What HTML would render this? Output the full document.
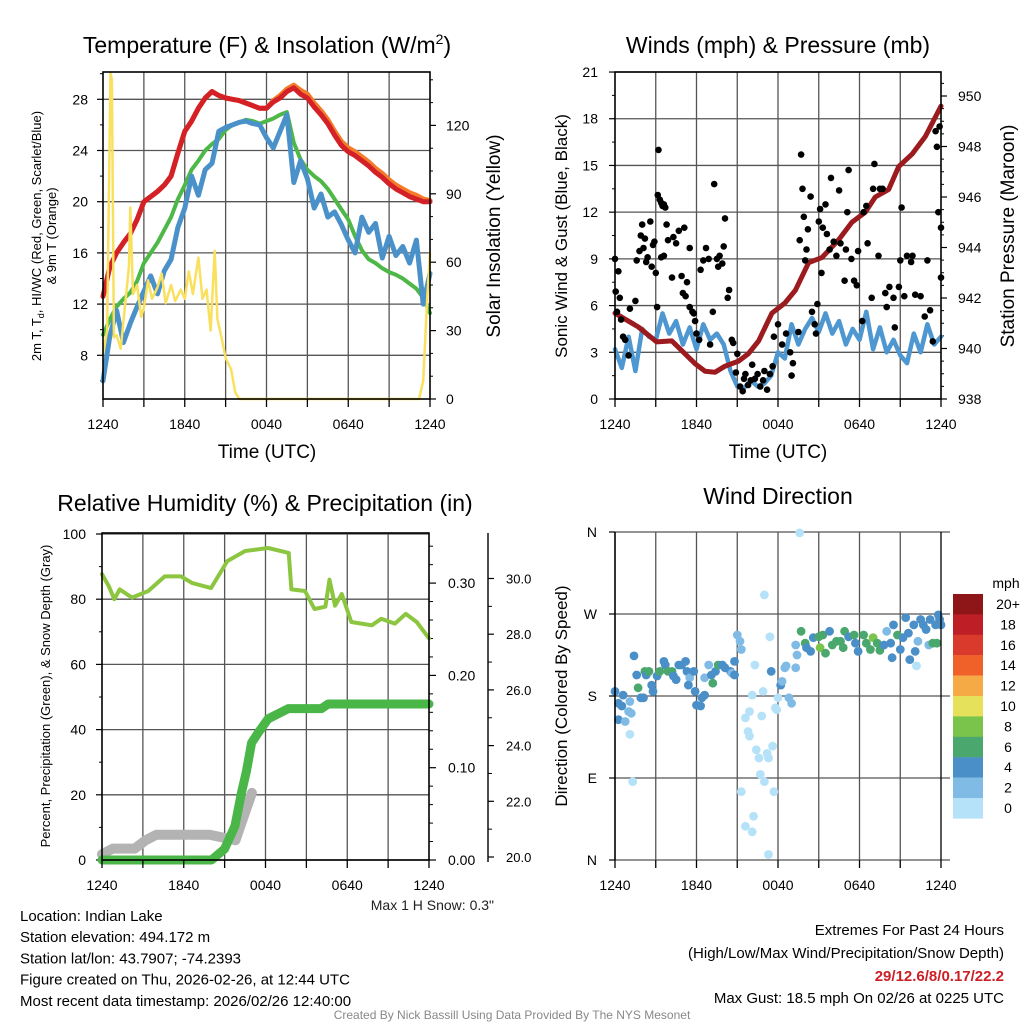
<!DOCTYPE html>
<html><head><meta charset="utf-8"><title>Mesonet Meteogram</title>
<style>
html,body{margin:0;padding:0;background:#fff;}
svg{display:block;font-family:"Liberation Sans",Arial,sans-serif;}
</style></head>
<body>
<svg id="chart" width="1024" height="1024" viewBox="0 0 1024 1024" xmlns="http://www.w3.org/2000/svg">
<rect width="1024" height="1024" fill="#fff"/>
<g id="layer"></g>
</svg>
<script>
// ---------- DATA ----------
const hours = [0,0.5,1,1.5,2,2.5,3,3.5,4,4.5,5,5.5,6,6.5,7,7.5,8,8.5,9,9.5,10,10.5,11,11.5,12,12.5,13,13.5,14,14.5,15,15.5,16,16.5,17,17.5,18,18.5,19,19.5,20,20.5,21,21.5,22,22.5,23,23.5,24];
const timeTickLabels = ["1240","1840","0040","0640","1240"];
const tempRed = [12.6,14.9,16,16.8,17.5,18.6,20,20.4,20.8,21.3,22,23.8,25.5,26.3,27.3,28.1,28.6,28.3,28.1,28.0,27.9,27.7,27.5,27.3,27.3,27.8,28.1,28.6,28.9,28.4,28.1,27.4,26.8,26.1,25.2,24.4,23.9,23.6,23.2,22.8,22.3,21.9,21.4,21.0,20.7,20.4,20.2,20.0,20.0];
const temp9mOrange = [12.6,14.9,16,16.8,17.5,18.6,20,20.4,20.8,21.3,22,23.8,25.5,26.3,27.3,28.1,28.6,28.3,28.1,28.0,27.9,27.7,27.5,27.3,27.3,27.9,28.3,28.8,29.1,28.7,28.4,27.7,27.1,26.4,25.5,24.7,24.2,23.9,23.5,23.1,22.6,22.2,21.7,21.3,21.0,20.7,20.5,20.2,20.1];
const dewGreen = [9.6,10.8,11.8,12.4,12.9,13.8,15.2,16.0,16.8,17.8,18.8,20.2,21.3,22.5,23.2,24.0,24.5,24.9,25.6,26.0,26.2,26.4,26.3,26.1,26.3,26.5,26.8,27.0,24.6,23.3,22.5,22.0,21.6,21.0,20.2,19.4,18.6,17.3,16.2,15.5,15.2,14.8,14.5,14.3,14.0,13.6,13.2,12.5,11.3];
const windChillBlue = [6.0,9.5,11.5,9.0,10.5,11.8,13.0,14.2,12.8,14.6,15.5,18.0,19.5,22.0,20.5,22.5,23.0,25.5,25.8,26.0,26.2,26.3,26.1,26.0,25.0,24.2,25.5,26.8,21.5,23.2,21.8,19.5,20.6,18.8,19.2,18.2,17.0,16.0,18.8,17.6,18.3,15.6,17.3,15.8,16.5,15.2,17.0,12.0,14.4];
const solarHours = [0,0.3,0.55,0.65,0.8,1.0,1.3,1.6,1.9,2.0,2.2,2.5,2.8,3.0,3.3,3.6,4.0,4.3,4.6,5.0,5.3,5.7,6.0,6.3,6.6,7.0,7.3,7.6,7.9,8.2,8.4,8.7,9.0,9.4,9.7,10,23.2,23.5,23.8,24];
const solarValues = [20,30,143,140,27,28,22,40,58,84,46,50,36,40,52,44,49,55,42,50,43,48,44,56,46,62,44,48,30,65,35,27,18,13,3,0,0,8,45,64];
const leftTempTicks = [8,12,16,20,24,28];
const solarTicks = [0,30,60,90,120];

const windSpeed = [3.2,2.0,4.0,1.8,4.5,4.0,3.8,5.5,4.2,5.0,3.5,4.6,3.2,4.8,3.8,4.2,3.5,1.8,0.8,0.7,1.2,0.8,1.0,1.5,3.0,2.6,4.8,3.5,4.5,5.2,4.3,5.5,4.2,5.0,3.5,4.5,3.8,5.6,3.2,4.6,3.0,3.8,2.8,2.3,4.2,3.0,4.8,3.5,4.0];
const pressHours = [0,1.72,3.07,4.18,5.9,6.63,7.37,8.1,9.1,9.83,10.57,11.55,12.5,13.27,14.25,15.23,16.46,17.44,18.43,19.16,20.15,20.88,21.87,22.85,24];
const pressValues = [941.4,940.85,940.26,940.3,939.4,939.1,939.06,939.3,939.5,939.8,940.3,941.4,941.8,942.3,943.4,943.6,944.3,945.0,945.4,946.0,946.3,947.2,947.7,948.4,949.6];
const gustHours = [0.0,0.05,0.15,0.25,0.35,0.45,0.6,0.75,1.0,1.1,1.5,1.6,1.8,1.9,2.0,2.1,2.2,2.3,2.4,2.6,2.7,2.8,2.9,3.0,3.1,3.15,3.2,3.3,3.4,3.5,3.6,3.7,3.4,3.6,3.8,3.9,4.2,4.3,4.5,4.7,4.9,5.1,5.3,5.5,5.0,5.2,5.5,5.7,5.8,5.9,6.0,6.2,6.3,6.5,6.7,6.9,7.0,7.2,7.3,7.5,7.6,7.7,7.9,8.0,8.1,8.3,8.4,8.6,8.7,8.9,9.0,9.2,9.4,9.5,9.6,9.8,10.0,10.1,10.3,10.5,10.7,10.9,11.0,11.2,11.4,11.6,11.7,12.0,12.3,12.6,12.9,13.0,13.1,13.5,13.6,13.7,13.8,13.9,14.0,14.1,14.2,14.4,14.5,14.7,14.8,14.9,15.0,15.1,15.2,15.3,15.5,15.6,15.8,15.9,16.1,16.3,16.6,16.5,16.9,17.0,17.1,17.2,17.4,17.6,17.8,17.9,18.2,18.3,18.5,18.6,18.9,19.0,19.1,19.4,19.5,19.7,19.9,20.0,20.2,20.5,20.6,20.9,21.0,21.1,21.3,21.5,21.8,21.9,22.1,22.5,22.8,23.0,23.2,23.4,23.6,23.7,23.9,24.0,23.8,24.0];
const gustValues = [9,6.9,5.6,8.2,6.5,5.1,4.0,3.8,2.8,5.8,6.3,8.9,9.5,10.5,11.2,9.7,10.3,8.8,9.1,11.4,8.5,9.9,10.1,8.1,5.9,13.1,16.0,12.8,12.6,12.4,12.5,12.3,9.1,9.2,11.2,10.2,7.8,10.4,10.0,10.8,7.9,11.0,7.5,9.7,6.8,6.6,5.9,5.6,5.5,5.0,4.2,3.8,8.3,8.9,9.7,9.0,3.5,5.6,13.8,9.0,8.5,9.2,8.7,9.8,11.6,6.5,7.0,3.8,3.6,1.7,2.9,0.8,0.5,1.3,1.6,0.9,1.2,2.2,1.3,1.6,0.8,1.2,1.8,0.6,1.6,2.1,4.0,4.8,3.5,4.2,3.0,1.5,2.3,4.3,10.2,15.7,13.5,11.7,8.9,9.6,10.9,13.0,5.6,4.8,4.2,6.1,11.4,12.2,8.1,11.0,12.5,10.6,9.6,14.2,10.1,9.2,10.0,13.4,7.6,9.6,12.0,14.7,9.0,7.6,7.3,9.5,5.0,12.0,12.4,10.0,6.5,13.5,15.1,9.2,13.5,13.5,6.8,5.9,7.2,6.5,4.6,7.2,8.9,12.3,6.6,9.2,8.8,9.2,6.7,6.6,5.3,8.9,5.7,3.7,17.2,16.2,17.5,11.0,12.0,7.8];
const windTicks = [0,3,6,9,12,15,18,21];
const pressTicks = [938,940,942,944,946,948,950];

const rhHours = [0,0.5,0.9,1.3,2.2,3.4,4.6,5.8,6.6,8.0,9.2,10.5,12.2,13.7,13.9,14.9,15.6,16.4,16.7,17.1,17.6,18.3,19.8,20.5,21.5,22.3,23.1,24];
const rhValues = [87.7,84,80,83,80.5,82.5,87,87,85,83.4,91.7,94.8,95.7,94.2,83,82.5,77,77.7,86,78,81.6,73,72,74,72.5,75.5,73,68];
const precipHours = [0,8.04,9.0,9.76,10.24,10.6,10.98,11.47,12.2,13.67,16.1,16.6,24];
const precipValues = [0,0,0.012,0.037,0.073,0.096,0.127,0.138,0.153,0.164,0.164,0.169,0.169];
const snowHours = [0,0.8,2.4,3.2,4.0,7.9,9.8,10.5,11.0];
const snowValues = [20.1,20.3,20.3,20.6,20.8,20.8,20.6,21.6,22.3];
const rhTicks = [0,20,40,60,80,100];
const precipTicks = [0.00,0.10,0.20,0.30];
const snowTicks = [20,22,24,26,28,30];

const dirHours = [0.0,0.25,0.5,0.6,0.25,0.75,1.1,1.0,1.2,1.1,1.3,1.4,1.6,1.7,1.9,2.1,2.2,2.3,2.5,2.7,2.8,3.1,3.3,3.6,3.7,3.9,4.2,4.3,4.5,4.7,4.9,5.2,5.3,5.5,5.8,5.4,5.9,6.0,6.3,6.4,6.6,6.6,6.9,7.1,7.2,7.4,7.6,7.9,8.1,8.5,8.8,9.0,9.2,9.3,8.6,8.8,9.6,9.8,9.9,9.9,10.1,10.3,10.4,10.6,10.7,10.8,10.9,11.0,11.2,11.3,11.4,11.5,11.6,11.7,11.8,11.9,12.0,12.2,12.3,12.5,12.6,12.8,13.0,13.3,13.4,13.3,13.6,9.3,9.6,10.1,10.2,11.3,11.0,13.7,14.0,14.1,14.4,14.6,15.0,15.1,15.3,15.5,15.8,16.0,16.3,16.6,16.8,16.9,17.2,17.6,17.7,17.9,18.3,18.5,18.8,19.0,19.3,19.5,19.8,20.0,20.3,20.4,20.5,20.8,21.0,21.2,21.4,21.6,21.7,22.0,22.1,22.2,22.3,22.5,22.7,22.9,23.1,23.2,23.4,23.7,23.8,24.0,23.6,23.9];
const dirValues = [185,172,169,181,154,152,174,163,161,138,86,224,203,189,178,178,207,203,207,192,185,202,207,218,214,207,207,202,198,214,214,218,207,200,207,192,185,170,169,178,181,200,214,203,194,207,214,214,211,207,218,247,240,231,205,203,156,141,136,163,181,214,121,112,94,158,185,291,117,112,245,207,125,75,167,165,178,192,196,211,213,178,172,211,225,236,359,75,37,31,48,6,86,251,238,233,229,244,245,233,247,227,251,236,240,240,233,251,245,247,238,229,247,238,231,244,238,230,236,251,238,222,258,247,231,244,266,249,220,258,229,213,240,264,258,253,236,264,238,238,269,258,258,264];
const dirSpeeds = [4,4,4,4,4,3,3,3,2,1,1,4,4,6,4,4,6,4,6,4,4,4,6,4,4,6,6,4,4,4,4,4,4,3,4,4,4,4,4,4,4,3,3,4,6,4,6,4,4,4,4,2,2,2,3,4,1,1,1,1,1,1,1,1,1,1,1,1,1,1,1,4,1,1,1,1,1,4,3,3,3,2,2,3,2,2,1,1,1,1,1,1,1,6,6,4,4,4,6,8,6,6,4,6,6,6,6,6,4,6,4,4,6,6,6,8,6,6,4,2,4,4,4,6,4,4,4,4,4,4,4,1,2,4,4,4,2,4,6,6,4,4,4,4];
const dirTicks = [0,90,180,270,360];
const dirTickLabels = ["N","E","S","W","N"];
const speedBins = ["20+","18","16","14","12","10","8","6","4","2","0"];
const speedColors = ["#8e1518","#be1e25","#da3a2b","#ef6129","#f6aa45","#e6e15a","#7bc44c","#4aa76d","#4a8fc7","#7fbbe5","#b5e2f8"];

// ---------- HELPERS ----------
const NS = "http://www.w3.org/2000/svg";
const root = document.getElementById("layer");
function mk(tag, attrs, parent, text){
  const e = document.createElementNS(NS, tag);
  for (const k in attrs) e.setAttribute(k, attrs[k]);
  if (text !== undefined) e.textContent = text;
  (parent || root).appendChild(e);
  return e;
}
function grp(name){
  const g = mk("g", {});
  
  
  return g;
}
function txt(name, x, y, s, size, anchor, extra, parent){
  const a = Object.assign({x:x, y:y, "font-size":size, "text-anchor":anchor||"middle", fill:"#000"}, extra||{});
  const t = mk("text", a, parent, s);
  
  
  return t;
}
function pathFrom(xs, ys, X, Y){
  let d = "";
  for (let i=0;i<xs.length;i++){ d += (i?"L":"M") + X(xs[i]).toFixed(1) + "," + Y(ys[i]).toFixed(1); }
  return d;
}
function line(name, d, color, w, parent){
  const p = mk("path", {d:d, fill:"none", stroke:color, "stroke-width":w, "stroke-linejoin":"round", "stroke-linecap":"round"}, parent);
  
  
  return p;
}
function frame(name, x0,y0,x1,y1, vgrid, hys, parent){
  const g = grp(name);
  vgrid.forEach(x=>{ mk("line",{x1:x,y1:y0,x2:x,y2:y1,stroke:"#555","stroke-width":1.3},g); });
  hys.forEach(y=>{ mk("line",{x1:x0,y1:y,x2:x1,y2:y,stroke:"#555","stroke-width":1.3},g); });
  return g;
}
function border(x0,y0,x1,y1){
  const r = mk("rect",{x:x0,y:y0,width:x1-x0,height:y1-y0,fill:"none",stroke:"#000","stroke-width":1.6});
  
  
}
function timeAxis(X, yb, name){
  const g = grp(name);
  for (let h=0; h<=24; h+=3) mk("line",{x1:X(h),y1:yb,x2:X(h),y2:yb+8,stroke:"#000","stroke-width":1.3},g);
  timeTickLabels.forEach((s,i)=>{ txt("x-tick-label", X(i*6), yb+30, s, 14, "middle", {}, g); });
}

// ---------- PANEL 1 ----------
(function(){
  const x0=103,x1=430,y0=72,y1=399;
  const X = t => x0 + t*(x1-x0)/24;
  const Y = v => 99.3 + (28-v)*12.8;
  const YR = v => y1 - v*2.28;
  const vg=[]; for(let h=3;h<24;h+=3) vg.push(X(h));
  frame("temp-grid", x0,y0,x1,y1, vg, leftTempTicks.map(Y));
  const g = grp("temp-left-axis");
  leftTempTicks.forEach(v=>{ mk("line",{x1:x0-6,y1:Y(v),x2:x0,y2:Y(v),stroke:"#000","stroke-width":1.2},g); txt("y-tick-label",88,Y(v)+5,String(v),14,"end",{},g); });
  for(let v=6; v<=30; v+=2){ if(v%4) mk("line",{x1:x0-3,y1:Y(v),x2:x0,y2:Y(v),stroke:"#000","stroke-width":1},g); }
  const gr = grp("solar-right-axis");
  solarTicks.forEach(v=>{ mk("line",{x1:x1,y1:YR(v),x2:x1+6,y2:YR(v),stroke:"#000","stroke-width":1.2},gr); txt("y2-tick-label",446,YR(v)+5,String(v),14,"start",{},gr); });
  for(let v=10; v<=140; v+=10){ if(v%30) mk("line",{x1:x1,y1:YR(v),x2:x1+3,y2:YR(v),stroke:"#000","stroke-width":1},gr); }
  const sg = grp("temp-series");
  line("orange-9m-temp-line", pathFrom(hours,temp9mOrange,X,Y), "#f47b2a", 5, sg);
  line("red-2m-temp-line", pathFrom(hours,tempRed,X,Y), "#d42027", 5, sg);
  line("green-dewpoint-line", pathFrom(hours,dewGreen,X,Y), "#4db848", 4, sg);
  line("blue-windchill-line", pathFrom(hours,windChillBlue,X,Y), "#4b91c9", 5, sg);
  line("yellow-solar-line", pathFrom(solarHours,solarValues,X,YR), "#f9e05e", 2.5, sg);
  border(x0,y0,x1,y1);
  timeAxis(X, y1, "temp-time-axis");
  const t = txt("temp-title",267,53,"",23);
  t.innerHTML = 'Temperature (F) &amp; Insolation (W/m<tspan font-size="14" dy="-9">2</tspan><tspan dy="9">)</tspan>';
  txt("temp-x-axis-title",267,458,"Time (UTC)",19);
  const l1 = txt("temp-y-axis-title",41,236,"",13,"middle",{transform:"rotate(-90 41 236)"});
  l1.innerHTML = '2m T, T<tspan font-size="9" dy="3">d</tspan><tspan dy="-3">, HI/WC (Red, Green, Scarlet/Blue)</tspan>';
  txt("temp-y-axis-title-2",56,236,"& 9m T (Orange)",13,"middle",{transform:"rotate(-90 56 236)"});
  txt("solar-y-axis-title",500,236,"Solar Insolation (Yellow)",19,"middle",{transform:"rotate(-90 500 236)"});
})();

// ---------- PANEL 2 ----------
(function(){
  const x0=615,x1=941,y0=72,y1=399;
  const X = t => x0 + t*(x1-x0)/24;
  const Y = v => y1 - v*15.57;
  const YP = p => y1 - (p-938)*25.25;
  const vg=[]; for(let h=3;h<24;h+=3) vg.push(X(h));
  frame("wind-grid", x0,y0,x1,y1, vg, windTicks.map(Y));
  const g = grp("wind-left-axis");
  windTicks.forEach(v=>{ mk("line",{x1:x0-6,y1:Y(v),x2:x0,y2:Y(v),stroke:"#000","stroke-width":1.2},g); txt("y-tick-label",598,Y(v)+5,String(v),14,"end",{},g); });
  for(let v=1.5; v<21; v+=3) mk("line",{x1:x0-3,y1:Y(v),x2:x0,y2:Y(v),stroke:"#000","stroke-width":1},g);
  const gr = grp("pressure-right-axis");
  pressTicks.forEach(v=>{ mk("line",{x1:x1,y1:YP(v),x2:x1+6,y2:YP(v),stroke:"#000","stroke-width":1.2},gr); txt("y2-tick-label",958,YP(v)+5,String(v),14,"start",{},gr); });
  for(let v=938.5; v<950.9; v+=0.5){ if(Math.abs(v%2)>0.01) mk("line",{x1:x1,y1:YP(v),x2:x1+3,y2:YP(v),stroke:"#000","stroke-width":1},gr); }
  const sg = grp("wind-series");
  line("sonic-wind-line", pathFrom(hours,windSpeed,X,Y), "#4f97d0", 4.5, sg);
  line("pressure-line", pathFrom(pressHours,pressValues,X,YP), "#9c1b1f", 5, sg);
  const gg = grp("gust-points");
  gustHours.forEach((t,i)=>{ const c = mk("circle",{cx:X(t).toFixed(1),cy:Y(gustValues[i]).toFixed(1),r:3.3,fill:"#000"},gg);   });
  border(x0,y0,x1,y1);
  timeAxis(X, y1, "wind-time-axis");
  txt("wind-title",778,53,"Winds (mph) & Pressure (mb)",23);
  txt("wind-x-axis-title",778,458,"Time (UTC)",19);
  txt("wind-y-axis-title",567,236,"Sonic Wind & Gust (Blue, Black)",17,"middle",{transform:"rotate(-90 567 236)"});
  txt("pressure-y-axis-title",1014,236,"Station Pressure (Maroon)",19,"middle",{transform:"rotate(-90 1014 236)"});
})();

// ---------- PANEL 3 ----------
(function(){
  const x0=102,x1=429,y0=533,y1=860;
  const X = t => x0 + t*(x1-x0)/24;
  const Y = v => y1 - v*3.26;
  const YP = p => y1 - p*923;
  const YS = s => 857 - (s-20)*27.85;
  const vg=[]; for(let h=3;h<24;h+=3) vg.push(X(h));
  frame("rh-grid", x0,y0,x1,y1, vg, rhTicks.map(Y));
  const g = grp("rh-left-axis");
  rhTicks.forEach(v=>{ mk("line",{x1:x0-6,y1:Y(v),x2:x0,y2:Y(v),stroke:"#000","stroke-width":1.2},g); txt("y-tick-label",86,Y(v)+5,String(v),14,"end",{},g); });
  for(let v=10; v<100; v+=20) mk("line",{x1:x0-3,y1:Y(v),x2:x0,y2:Y(v),stroke:"#000","stroke-width":1},g);
  const gp = grp("precip-right-axis");
  precipTicks.forEach(v=>{ mk("line",{x1:x1,y1:YP(v),x2:x1+7,y2:YP(v),stroke:"#000","stroke-width":1.2},gp); txt("precip-tick-label",448,YP(v)+5,v.toFixed(2),14,"start",{},gp); });
  for(let v=0.02; v<0.35; v+=0.02){ if(Math.abs(v*10-Math.round(v*10))>0.01) mk("line",{x1:x1,y1:YP(v),x2:x1+4,y2:YP(v),stroke:"#000","stroke-width":1},gp); }
  const gs = grp("snow-right-axis");
  mk("line",{x1:488,y1:533,x2:488,y2:862,stroke:"#000","stroke-width":1.4},gs);
  snowTicks.forEach(v=>{ mk("line",{x1:488,y1:YS(v),x2:494,y2:YS(v),stroke:"#000","stroke-width":1.2},gs); txt("snow-tick-label",506,YS(v)+5,v.toFixed(1),13,"start",{},gs); });
  for(let v=21; v<31; v+=2) mk("line",{x1:488,y1:YS(v),x2:492,y2:YS(v),stroke:"#000","stroke-width":1},gs);
  const sg = grp("rh-series");
  line("snow-depth-line", pathFrom(snowHours,snowValues,X,YS), "#b3b3b3", 10, sg);
  line("precip-line", pathFrom(precipHours,precipValues,X,YP), "#4ab648", 9, sg);
  line("rh-line", pathFrom(rhHours,rhValues,X,Y), "#8cc641", 4, sg);
  border(x0,y0,x1,y1);
  timeAxis(X, y1, "rh-time-axis");
  txt("rh-title",265,511,"Relative Humidity (%) & Precipitation (in)",23);
  txt("rh-y-axis-title",50,696,"Percent, Precipitation (Green), & Snow Depth (Gray)",13,"middle",{transform:"rotate(-90 50 696)"});
  txt("max-snow-note",494,910,"Max 1 H Snow: 0.3\"",14,"end",{fill:"#222"});
})();

// ---------- PANEL 4 ----------
(function(){
  const x0=615,x1=941,y0=532,y1=860;
  const X = t => x0 + t*(x1-x0)/24;
  const Y = d => y1 - d*(y1-y0)/360;
  const vg=[]; for(let h=3;h<24;h+=3) vg.push(X(h));
  const g0 = frame("dir-grid", x0,y0,x1,y1, vg, []);
  dirTicks.forEach(d=>{ mk("line",{x1:x0,y1:Y(d),x2:950,y2:Y(d),stroke:"#555","stroke-width":1.3},g0); });
  const g = grp("dir-left-axis");
  dirTicks.forEach((d,i)=>{ mk("line",{x1:x0-6,y1:Y(d),x2:x0,y2:Y(d),stroke:"#000","stroke-width":1.2},g); txt("dir-tick-label",597,Y(d)+5,dirTickLabels[i],14,"end",{},g); });
  function col(s){ if(s<2) return speedColors[10]; if(s<4) return speedColors[9]; if(s<6) return speedColors[8]; if(s<8) return speedColors[7]; if(s<10) return speedColors[6]; if(s<12) return speedColors[5]; if(s<14) return speedColors[4]; if(s<16) return speedColors[3]; if(s<18) return speedColors[2]; if(s<20) return speedColors[1]; return speedColors[0]; }
  const gp = grp("direction-points");
  dirHours.forEach((t,i)=>{ const c = mk("circle",{cx:X(t).toFixed(1),cy:Y(dirValues[i]).toFixed(1),r:4.4,fill:col(dirSpeeds[i])},gp);   });
  mk("line",{x1:x0,y1:y0,x2:x0,y2:y1,stroke:"#000","stroke-width":1.6});
  mk("line",{x1:x1,y1:y0,x2:x1,y2:y1,stroke:"#000","stroke-width":1.3});
  timeAxis(X, y1, "dir-time-axis");
  txt("dir-title",778,504,"Wind Direction",23);
  txt("dir-y-axis-title",567,696,"Direction (Colored By Speed)",17,"middle",{transform:"rotate(-90 567 696)"});
  const lg = grp("speed-legend");
  txt("legend-title",1006,588,"mph",14,"middle",{},lg);
  speedBins.forEach((s,i)=>{
    const r = mk("rect",{x:953,y:594+i*20.4,width:30,height:20.6,fill:speedColors[i]},lg);
    
    
    txt("legend-label",1008,594+i*20.4+15,s,14,"middle",{},lg);
  });
})();

// ---------- FOOTER ----------
(function(){
  const g = grp("station-info");
  const lines = ["Location: Indian Lake","Station elevation: 494.172 m","Station lat/lon: 43.7907; -74.2393","Figure created on Thu, 2026-02-26, at 12:44 UTC","Most recent data timestamp: 2026/02/26 12:40:00"];
  lines.forEach((s,i)=>txt("station-info-line",20,921+i*21.2,s,15,"start",{},g));
  const e = grp("extremes-info");
  txt("extremes-title",1004,935,"Extremes For Past 24 Hours",15,"end",{},e);
  txt("extremes-legend",1004,958,"(High/Low/Max Wind/Precipitation/Snow Depth)",15,"end",{},e);
  txt("extremes-values",1004,981,"29/12.6/8/0.17/22.2",15,"end",{fill:"#cc1f26","font-weight":"bold"},e);
  txt("max-gust",1004,1003,"Max Gust: 18.5 mph On 02/26 at 0225 UTC",15,"end",{},e);
  txt("credit",512,1019,"Created By Nick Bassill Using Data Provided By The NYS Mesonet",12,"middle",{fill:"#888"});
})();
</script>
</body></html>
